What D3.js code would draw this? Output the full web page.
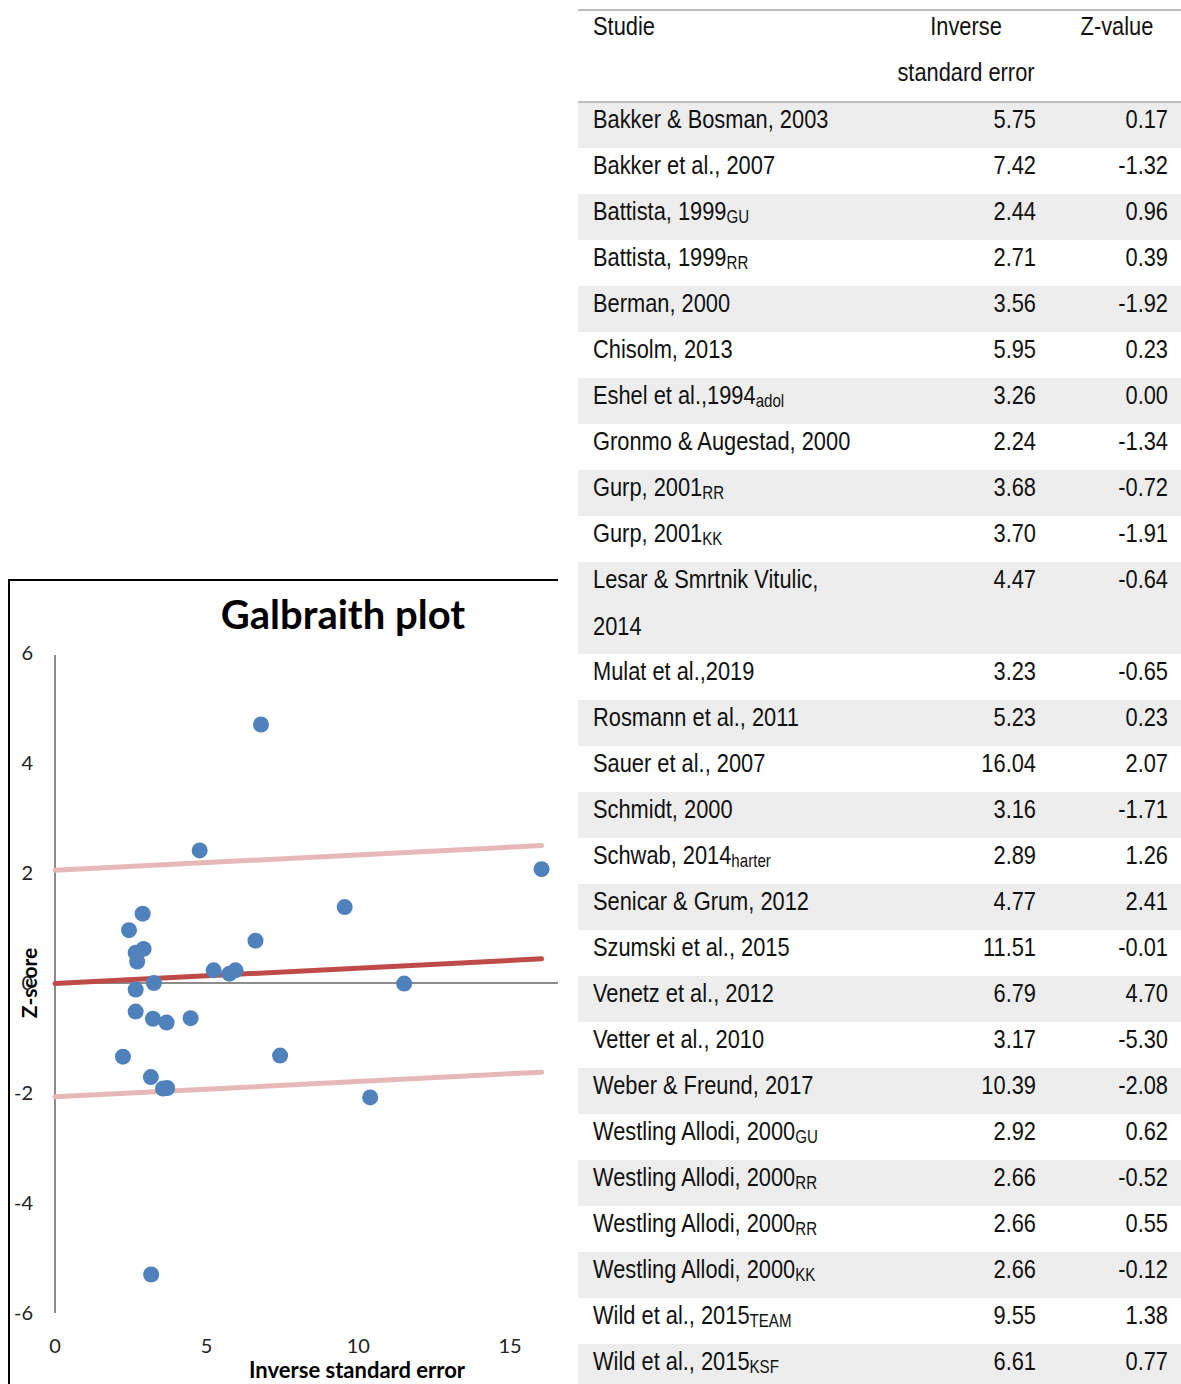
<!DOCTYPE html>
<html>
<head>
<meta charset="utf-8">
<script src="https://cdn.jsdelivr.net/npm/d3@7/dist/d3.min.js"></script>
<style>
  html, body { margin: 0; padding: 0; background: #fff; }
  svg { display: block; }
  .tbl text { font-family: "Liberation Sans", Arial, sans-serif; font-size: 26px; fill: #111; }
  .chart text { font-family: Lato, "Open Sans", sans-serif; }
</style>
</head>
<body>
<svg id="root" width="1181" height="1384"></svg>
<script>
// Study labels, with the small subscript that follows some of them
const studies = [
  "Bakker & Bosman, 2003", "Bakker et al., 2007", "Battista, 1999", "Battista, 1999",
  "Berman, 2000", "Chisolm, 2013", "Eshel et al.,1994", "Gronmo & Augestad, 2000",
  "Gurp, 2001", "Gurp, 2001", "Lesar & Smrtnik Vitulic,|2014", "Mulat et al.,2019",
  "Rosmann et al., 2011", "Sauer et al., 2007", "Schmidt, 2000", "Schwab, 2014",
  "Senicar & Grum, 2012", "Szumski et al., 2015", "Venetz et al., 2012", "Vetter et al., 2010",
  "Weber & Freund, 2017", "Westling Allodi, 2000", "Westling Allodi, 2000", "Westling Allodi, 2000",
  "Westling Allodi, 2000", "Wild et al., 2015", "Wild et al., 2015"
];
const subscripts = [
  "", "", "GU", "RR", "", "", "adol", "", "RR", "KK", "", "", "", "", "", "harter",
  "", "", "", "", "", "GU", "RR", "RR", "KK", "TEAM", "KSF"
];
// Inverse standard error (precision) and z-value per study
const invSE = [5.75, 7.42, 2.44, 2.71, 3.56, 5.95, 3.26, 2.24, 3.68, 3.70, 4.47, 3.23, 5.23,
  16.04, 3.16, 2.89, 4.77, 11.51, 6.79, 3.17, 10.39, 2.92, 2.66, 2.66, 2.66, 9.55, 6.61];
const zValues = [0.17, -1.32, 0.96, 0.39, -1.92, 0.23, 0.00, -1.34, -0.72, -1.91, -0.64, -0.65, 0.23,
  2.07, -1.71, 1.26, 2.41, -0.01, 4.70, -5.30, -2.08, 0.62, -0.52, 0.55, -0.12, 1.38, 0.77];

// Axis ticks
const xTicks = [0, 5, 10, 15];
const yTicks = [-6, -4, -2, 0, 2, 4, 6];

// Fitted Galbraith line (through precision) and its ±2 band
const fitIntercept = -0.01;
const fitSlope = 0.028;
const bandHalfWidth = 2.06;
const lineExtent = [0, 16.04];

const svg = d3.select("#root");

// ---------- Galbraith plot ----------
const chart = svg.append("g").attr("class", "chart");

// frame (top and left border of the chart area)
chart.append("path")
  .attr("d", "M9,1384 V580 H558")
  .attr("fill", "none").attr("stroke", "#000").attr("stroke-width", 2);

const x = d3.scaleLinear().domain([0, 15]).range([55, 510]);
const y = d3.scaleLinear().domain([-6, 6]).range([1313, 653]);

// axis lines
chart.append("line")
  .attr("x1", x(0)).attr("x2", x(0)).attr("y1", y(6) + 2).attr("y2", y(-6))
  .attr("stroke", "#8c8c8c").attr("stroke-width", 2);
chart.append("line")
  .attr("x1", x(0)).attr("x2", 558).attr("y1", y(0)).attr("y2", y(0))
  .attr("stroke", "#8c8c8c").attr("stroke-width", 2);

// tick labels
chart.append("g").selectAll("text").data(yTicks).join("text")
  .attr("x", 33).attr("y", d => y(d)).attr("dy", "0.35em")
  .attr("text-anchor", "end").attr("font-size", 20).attr("fill", "#222")
  .text(d => d);
chart.append("g").selectAll("text").data(xTicks).join("text")
  .attr("x", d => x(d)).attr("y", 1346).attr("dy", "0.35em")
  .attr("text-anchor", "middle").attr("font-size", 20).attr("fill", "#222")
  .text(d => d);

// regression band and line
const band = [
  { off: bandHalfWidth, color: "#e6b9b8" },
  { off: -bandHalfWidth, color: "#e6b9b8" },
  { off: 0, color: "#be4b48" }
];
chart.append("g").selectAll("line").data(band).join("line")
  .attr("x1", x(lineExtent[0])).attr("x2", x(lineExtent[1]))
  .attr("y1", d => y(fitIntercept + d.off + fitSlope * lineExtent[0]))
  .attr("y2", d => y(fitIntercept + d.off + fitSlope * lineExtent[1]))
  .attr("stroke", d => d.color).attr("stroke-width", 5).attr("stroke-linecap", "round");

// study points
chart.append("g").selectAll("circle").data(d3.range(invSE.length)).join("circle")
  .attr("cx", i => x(invSE[i])).attr("cy", i => y(zValues[i])).attr("r", 8)
  .attr("fill", "#4f81bd");

// titles
chart.append("text")
  .attr("x", 343).attr("y", 629).attr("text-anchor", "middle")
  .attr("font-size", 40).attr("font-weight", "bold").attr("fill", "#000")
  .text("Galbraith plot");
chart.append("text")
  .attr("transform", `translate(37,${y(0)}) rotate(-90)`)
  .attr("text-anchor", "middle").attr("font-size", 21).attr("font-weight", "bold").attr("fill", "#000")
  .text("Z-score");
chart.append("text")
  .attr("x", 357).attr("y", 1378).attr("text-anchor", "middle")
  .attr("font-size", 22).attr("font-weight", "bold").attr("fill", "#000")
  .text("Inverse standard  error");

// ---------- Data table ----------
const tbl = svg.append("g").attr("class", "tbl");
const tx0 = 578, tx1 = 1181;
const rowH = 46;
const headerBottom = 102;
const colStudy = 593, colInv = 1036, colZ = 1168;
const narrow = 0.84; // condensed text width

// places a condensed text element at (px, py)
function ntext(parent, px, py, anchor) {
  return parent.append("text")
    .attr("transform", `translate(${px},${py}) scale(${narrow},1)`)
    .attr("text-anchor", anchor || "start");
}

// row layout (the Lesar entry wraps onto two lines)
let yCursor = headerBottom;
const rows = studies.map((s, i) => {
  const lines = s.split("|");
  const r = { i, lines, top: yCursor, h: rowH * lines.length };
  yCursor += r.h;
  return r;
});

tbl.selectAll("rect.band").data(rows.filter(r => r.i % 2 === 0)).join("rect")
  .attr("class", "band")
  .attr("x", tx0).attr("width", tx1 - tx0)
  .attr("y", r => r.top).attr("height", r => r.h)
  .attr("fill", "#ededed");

tbl.append("line").attr("x1", tx0).attr("x2", tx1).attr("y1", 10).attr("y2", 10)
  .attr("stroke", "#a6a6a6").attr("stroke-width", 1.5);
tbl.append("line").attr("x1", tx0).attr("x2", tx1).attr("y1", headerBottom).attr("y2", headerBottom)
  .attr("stroke", "#bfbfbf").attr("stroke-width", 2);

// header
ntext(tbl, colStudy, 35).text("Studie");
ntext(tbl, 966, 35, "middle").text("Inverse");
ntext(tbl, 966, 81, "middle").text("standard error");
ntext(tbl, 1117, 35, "middle").text("Z-value");

// body
const rowG = tbl.selectAll("g.row").data(rows).join("g").attr("class", "row")
  .attr("transform", r => `translate(0,${r.top})`);

rowG.each(function (r) {
  const g = d3.select(this);
  r.lines.forEach((ln, k) => {
    const t = ntext(g, colStudy, 26 + k * 47);
    t.append("tspan").text(ln);
    if (k === r.lines.length - 1 && subscripts[r.i]) {
      t.append("tspan").attr("font-size", 18).attr("dy", 3).text(subscripts[r.i]);
    }
  });
  ntext(g, colInv, 26, "end").text(invSE[r.i].toFixed(2));
  ntext(g, colZ, 26, "end").text(zValues[r.i].toFixed(2));
});
</script>
</body>
</html>
